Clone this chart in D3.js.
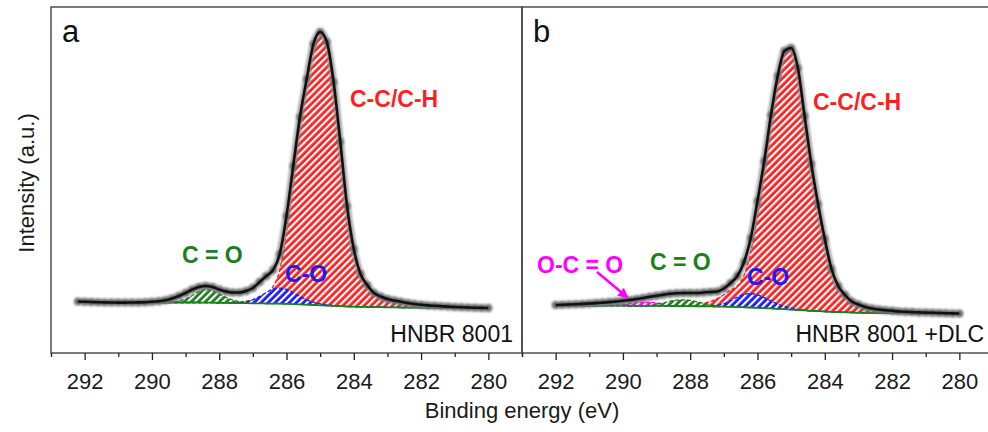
<!DOCTYPE html>
<html>
<head>
<meta charset="utf-8">
<script src="https://cdn.jsdelivr.net/npm/d3@7"></script>
<style>
  body { margin: 0; background: #fff; }
  svg { display: block; font-family: "Liberation Sans", Arial, sans-serif; }
</style>
</head>
<body>
<div id="chart"></div>
<script>
// binding energy grid (eV), shared by both panels
const energy = [292.2, 292.0, 291.8, 291.6, 291.4, 291.2, 291.0, 290.8, 290.6, 290.4,
  290.2, 290.0, 289.8, 289.6, 289.4, 289.2, 289.0, 288.8, 288.6, 288.4,
  288.2, 288.0, 287.8, 287.6, 287.4, 287.2, 287.0, 286.8, 286.6, 286.4,
  286.2, 286.0, 285.8, 285.6, 285.4, 285.2, 285.0, 284.8, 284.6, 284.4,
  284.2, 284.0, 283.8, 283.6, 283.4, 283.2, 283.0, 282.8, 282.6, 282.4,
  282.2, 282.0, 281.8, 281.6, 281.4, 281.2, 281.0, 280.8, 280.6, 280.4,
  280.2, 280.0];
const majorTicks = [292, 290, 288, 286, 284, 282, 280];
const minorTicks = [293, 291, 289, 287, 285, 283, 281, 279];

// panel a : HNBR 8001
const rawA = [16.5, 16.3, 16.0, 15.8, 15.6, 15.5, 15.4, 15.4, 15.5, 15.6,
  15.8, 16.2, 16.8, 17.8, 19.5, 22, 25, 28.5, 31, 32,
  31, 28.5, 26.5, 25.5, 25.5, 27, 30, 36, 42, 48,
  64, 102, 152, 201, 239, 274, 286, 276, 236, 176,
  112, 69, 44, 33, 25, 21.5, 19, 17.5, 16.2, 15,
  14, 13.2, 12.6, 12.2, 11.8, 11.4, 11, 10.7, 10.5, 10.3,
  10.1, 10];
const bgA = [15.5, 15.5, 15.5, 15.5, 15.5, 15.5, 15.5, 15.5, 15.5, 15.5,
  15.5, 15.5, 15.5, 15.5, 15.5, 15.5, 15.5, 15.5, 15.5, 15.4,
  15.3, 15.2, 15.1, 15.0, 14.9, 14.8, 14.7, 14.6, 14.5, 14.4,
  14.3, 14.1, 13.9, 13.6, 13.3, 13.0, 12.7, 12.4, 12.1, 11.8,
  11.5, 11.3, 11.1, 11.0, 10.9, 10.8, 10.7, 10.6, 10.5, 10.4,
  10.35, 10.3, 10.25, 10.2, 10.15, 10.1, 10.1, 10.05, 10.0, 10.0,
  10.0, 10.0];
const ccA = [0, 0, 0, 0, 0, 0, 0, 0, 0, 0,
  0, 0, 0, 0, 0, 0, 0, 0, 0, 0,
  0, 0, 0, 0.5, 1, 2, 3.5, 6, 10, 17,
  34, 73, 126, 179, 221, 258, 272, 263, 223.5, 164,
  100.5, 57.7, 33, 22, 14.1, 10.7, 8.3, 6.9, 5.7, 4.6,
  3.65, 2.9, 2.35, 2, 1.65, 1.3, 0.9, 0.65, 0.5, 0.3,
  0.1, 0];
const coA = [0, 0, 0, 0, 0, 0, 0, 0, 0, 0,
  0, 0, 0, 0, 0, 0, 0, 0, 0, 0,
  0, 0, 0, 0, 0.5, 1.5, 3.5, 7, 11, 14.5,
  15.5, 14.5, 11.5, 8, 5, 2.8, 1.5, 0.7, 0.3, 0,
  0, 0, 0, 0, 0, 0, 0, 0, 0, 0,
  0, 0, 0, 0, 0, 0, 0, 0, 0, 0,
  0, 0];
const c_oA = [0, 0, 0, 0, 0, 0, 0, 0, 0, 0,
  0, 0, 0, 0, 0.5, 1.5, 3.5, 7, 11, 13,
  12, 9, 5.5, 3, 1.5, 0.7, 0.3, 0, 0, 0,
  0, 0, 0, 0, 0, 0, 0, 0, 0, 0,
  0, 0, 0, 0, 0, 0, 0, 0, 0, 0,
  0, 0, 0, 0, 0, 0, 0, 0, 0, 0,
  0, 0];

// panel b : HNBR 8001 +DLC
const rawB = [null, 13, 13.2, 13.5, 13.8, 14.1, 14.5, 14.9, 15.4, 15.9,
  16.5, 17.2, 18, 19, 20, 21.2, 22.3, 23.3, 24.2, 24.8,
  25, 25, 25, 25.5, 26, 26.5, 29.5, 35, 42, 56,
  80, 117, 157, 203, 242, 267, 270, 250, 202, 154,
  114, 79, 49, 32, 23, 16.5, 13.5, 11, 9.5, 8.5,
  7.8, 7.2, 6.5, 6.2, 5.9, 5.6, 5.4, 5.2, 5.0, 4.8,
  4.6, 4.5];
const bgB = [null, 12.5, 12.5, 12.5, 12.45, 12.45, 12.4, 12.4, 12.35, 12.35,
  12.3, 12.3, 12.25, 12.2, 12.2, 12.15, 12.1, 12.05, 12.0, 11.95,
  11.9, 11.8, 11.75, 11.7, 11.6, 11.4, 11.3, 11.15, 11.0, 10.75,
  10.5, 10.2, 9.9, 9.55, 9.2, 8.8, 8.4, 8.0, 7.6, 7.2,
  6.8, 6.5, 6.2, 5.95, 5.7, 5.5, 5.3, 5.15, 5.0, 4.9,
  4.8, 4.7, 4.6, 4.55, 4.5, 4.45, 4.4, 4.38, 4.35, 4.33,
  4.3, 4.3];
const ccB = [null, 0, 0, 0, 0, 0, 0, 0, 0, 0,
  0, 0, 0, 0, 0, 0, 0, 0, 0, 0,
  0, 0, 0, 3, 5, 8, 12, 17, 21, 32,
  55.5, 94, 137, 186, 228, 255, 260, 241, 194, 147,
  107, 72.5, 43, 26, 17.3, 11, 8.2, 5.85, 4.5, 3.6,
  3, 2.5, 1.9, 1.65, 1.4, 1.15, 1.0, 0.8, 0.65, 0.5,
  0.3, 0.2];
const coB = [null, 0, 0, 0, 0, 0, 0, 0, 0, 0,
  0, 0, 0, 0, 0, 0, 0, 0, 0, 0,
  0, 0, 0, 0, 0.5, 1.3, 3, 6, 10, 13,
  14, 13, 10.5, 7.5, 4.8, 2.8, 1.5, 0.7, 0.3, 0,
  0, 0, 0, 0, 0, 0, 0, 0, 0, 0,
  0, 0, 0, 0, 0, 0, 0, 0, 0, 0,
  0, 0];
const c_oB = [null, 0, 0, 0, 0, 0, 0, 0, 0, 0,
  0, 0, 0, 0, 0, 0.5, 1.5, 3, 4.8, 6,
  6.3, 5.8, 4.5, 3, 1.7, 0.8, 0.3, 0, 0, 0,
  0, 0, 0, 0, 0, 0, 0, 0, 0, 0,
  0, 0, 0, 0, 0, 0, 0, 0, 0, 0,
  0, 0, 0, 0, 0, 0, 0, 0, 0, 0,
  0, 0];
const oc_oB = [null, 0, 0, 0, 0, 0, 0, 0, 0, 0.3,
  0.7, 1.3, 2.2, 3, 3.5, 3.5, 3, 2.2, 1.4, 0.8,
  0.4, 0.2, 0, 0, 0, 0, 0, 0, 0, 0,
  0, 0, 0, 0, 0, 0, 0, 0, 0, 0,
  0, 0, 0, 0, 0, 0, 0, 0, 0, 0,
  0, 0, 0, 0, 0, 0, 0, 0, 0, 0,
  0, 0];

const RED = "#ff1f1f", BLUE = "#1a1aff", GREEN = "#1a801a", MAGENTA = "#ff00ff";

const width = 988, height = 432;
const plotTop = 7, plotBottom = 353, panelW = 471;

const svg = d3.select("#chart").append("svg")
    .attr("width", width)
    .attr("height", height);

const defs = svg.append("defs");
function hatch(id, color) {
  const p = defs.append("pattern")
      .attr("id", id)
      .attr("patternUnits", "userSpaceOnUse")
      .attr("width", 5)
      .attr("height", 5)
      .attr("patternTransform", "rotate(45)");
  p.append("rect").attr("width", 5).attr("height", 5).attr("fill", color);
  p.append("rect").attr("width", 2.2).attr("height", 5).attr("fill", "#fff");
}
hatch("h-red", RED);
hatch("h-blue", BLUE);
hatch("h-green", GREEN);
hatch("h-mag", MAGENTA);

// soft edge for the measured points
defs.append("filter")
    .attr("id", "soft")
    .attr("x", "-50%").attr("y", "-50%")
    .attr("width", "200%").attr("height", "200%")
  .append("feGaussianBlur")
    .attr("stdDeviation", 0.9);

// same intensity scale for both panels
const y = d3.scaleLinear().domain([0, 290]).range([318, 28]);

function drawPanel(x0, raw, bg, comps, letter, sample) {
  const x = d3.scaleLinear().domain([293, 279]).range([x0, x0 + panelW]);
  const g = svg.append("g");
  const ok = (d, i) => raw[i] != null;

  // fitted components, hatched between background and component
  comps.forEach(c => {
    const area = d3.area()
        .defined(ok)
        .x((d, i) => x(energy[i]))
        .y0((d, i) => y(bg[i]))
        .y1((d, i) => y(bg[i] + c.h[i]))
        .curve(d3.curveMonotoneX);
    g.append("path")
        .attr("d", area(c.h))
        .attr("fill", `url(#${c.pat})`);
    const edge = d3.line()
        .defined(ok)
        .x((d, i) => x(energy[i]))
        .y((d, i) => y(bg[i] + c.h[i]))
        .curve(d3.curveMonotoneX);
    g.append("path")
        .attr("d", edge(c.h))
        .attr("fill", "none")
        .attr("stroke", c.color)
        .attr("stroke-width", 1.3)
        .attr("stroke-dasharray", "4,2");
  });

  // background
  const bgLine = d3.line()
      .defined(ok)
      .x((d, i) => x(energy[i]))
      .y(d => y(d))
      .curve(d3.curveMonotoneX);
  g.append("path")
      .attr("d", bgLine(bg))
      .attr("fill", "none")
      .attr("stroke", GREEN)
      .attr("stroke-width", 1.8);

  const fit = d3.line()
      .defined(d => d != null)
      .x((d, i) => x(energy[i]))
      .y(d => y(d))
      .curve(d3.curveMonotoneX);

  // measured points (grey band + dots)
  const pts = g.append("g").attr("filter", "url(#soft)");
  pts.append("path")
      .attr("d", fit(raw))
      .attr("fill", "none")
      .attr("stroke", "#8a8a8a")
      .attr("stroke-width", 7)
      .attr("stroke-linejoin", "round")
      .attr("opacity", 0.75);
  pts.selectAll(".pt")
    .data(raw.map((v, i) => [energy[i], v]).filter(d => d[1] != null))
    .join("circle")
      .attr("cx", d => x(d[0]))
      .attr("cy", d => y(d[1]))
      .attr("r", 4)
      .attr("fill", "#6e6e6e");

  // envelope
  g.append("path")
      .attr("d", fit(raw))
      .attr("fill", "none")
      .attr("stroke", "#111")
      .attr("stroke-width", 2.6)
      .attr("stroke-linejoin", "round");

  // frame
  g.append("rect")
      .attr("x", x0)
      .attr("y", plotTop)
      .attr("width", panelW)
      .attr("height", plotBottom - plotTop)
      .attr("fill", "none")
      .attr("stroke", "#444")
      .attr("stroke-width", 1.4);

  // bottom axis
  const ax = g.append("g")
      .attr("transform", `translate(0,${plotBottom})`)
      .call(d3.axisBottom(x).tickValues(majorTicks).tickSize(7).tickPadding(13).tickFormat(d3.format("d")));
  ax.select(".domain").remove();
  ax.selectAll("line").attr("stroke", "#222").attr("stroke-width", 1.3);
  ax.selectAll("text")
      .attr("font-size", 22)
      .attr("font-family", "Liberation Sans, Arial, sans-serif")
      .attr("fill", "#1a1a1a");
  const mx = g.append("g")
      .attr("transform", `translate(0,${plotBottom})`)
      .call(d3.axisBottom(x).tickValues(minorTicks).tickSize(4).tickFormat(""));
  mx.select(".domain").remove();
  mx.selectAll("line").attr("stroke", "#222").attr("stroke-width", 1.3);

  g.append("text")
      .attr("x", x0 + 11)
      .attr("y", 42)
      .attr("font-size", 31)
      .attr("fill", "#111")
      .text(letter);

  g.append("text")
      .attr("x", x0 + panelW - 9)
      .attr("y", 342)
      .attr("text-anchor", "end")
      .attr("font-size", 23)
      .attr("fill", "#111")
      .text(sample);

  return {g, x};
}

function label(g, text, px, py, color) {
  g.append("text")
      .attr("x", px)
      .attr("y", py)
      .attr("font-size", 23)
      .attr("font-weight", "bold")
      .attr("fill", color)
      .text(text);
}

const pa = drawPanel(51, rawA, bgA, [
  {h: ccA, pat: "h-red", color: RED},
  {h: c_oA, pat: "h-green", color: GREEN},
  {h: coA, pat: "h-blue", color: BLUE}
], "a", "HNBR 8001");
label(pa.g, "C-C/C-H", 350, 107, RED);
label(pa.g, "C = O", 182, 263, GREEN);
label(pa.g, "C-O", 285, 282, BLUE);

const pb = drawPanel(522, rawB, bgB, [
  {h: ccB, pat: "h-red", color: RED},
  {h: oc_oB, pat: "h-mag", color: MAGENTA},
  {h: c_oB, pat: "h-green", color: GREEN},
  {h: coB, pat: "h-blue", color: BLUE}
], "b", "HNBR 8001 +DLC");
label(pb.g, "C-C/C-H", 813, 110, RED);
label(pb.g, "C = O", 650, 270, GREEN);
label(pb.g, "O-C = O", 537, 273, MAGENTA);
label(pb.g, "C-O", 747, 285, BLUE);

// arrow to the O-C=O component
defs.append("marker")
    .attr("id", "arrow")
    .attr("viewBox", "0 0 10 10")
    .attr("refX", 8)
    .attr("refY", 5)
    .attr("markerWidth", 4)
    .attr("markerHeight", 4)
    .attr("orient", "auto")
  .append("path")
    .attr("d", "M0,0L10,5L0,10Z")
    .attr("fill", MAGENTA);
pb.g.append("line")
    .attr("x1", 597).attr("y1", 272)
    .attr("x2", 627).attr("y2", 297)
    .attr("stroke", MAGENTA)
    .attr("stroke-width", 2.6)
    .attr("marker-end", "url(#arrow)");

// axis titles
svg.append("text")
    .attr("x", 522)
    .attr("y", 418)
    .attr("text-anchor", "middle")
    .attr("font-size", 22)
    .attr("fill", "#1a1a1a")
    .text("Binding energy (eV)");

svg.append("text")
    .attr("transform", "translate(34,183) rotate(-90)")
    .attr("text-anchor", "middle")
    .attr("font-size", 22)
    .attr("fill", "#1a1a1a")
    .text("Intensity (a.u.)");
</script>
</body>
</html>
